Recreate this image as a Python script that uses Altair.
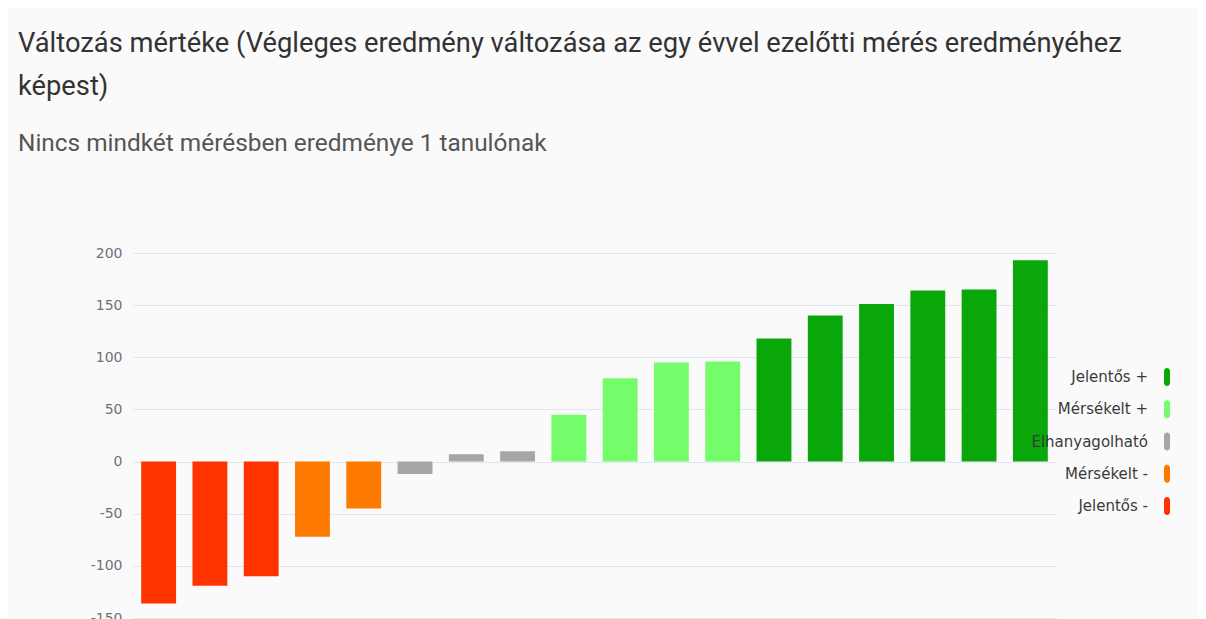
import altair as alt
import pandas as pd

# Bars (one per student, sorted by change)
bar_ids = list(range(1, 19))
bar_values = [-136, -119, -110, -72, -45, -12, 7, 10, 45, 80, 95, 96, 118, 140, 151, 164, 165, 193]
bar_classes = [
    "Jelentős -", "Jelentős -", "Jelentős -",
    "Mérsékelt -", "Mérsékelt -",
    "Elhanyagolható", "Elhanyagolható", "Elhanyagolható",
    "Mérsékelt +", "Mérsékelt +", "Mérsékelt +", "Mérsékelt +",
    "Jelentős +", "Jelentős +", "Jelentős +", "Jelentős +", "Jelentős +", "Jelentős +",
]

# Legend / colour categories
legend_labels = ["Jelentős +", "Mérsékelt +", "Elhanyagolható", "Mérsékelt -", "Jelentős -"]
legend_colors = ["#09a709", "#75fc6a", "#a6a6a6", "#ff7b00", "#ff3300"]

y_ticks = [-150, -100, -50, 0, 50, 100, 150, 200]

title_lines = [
    "Változás mértéke (Végleges eredmény változása az egy évvel ezelőtti mérés eredményéhez",
    "képest)",
]
subtitle_text = "Nincs mindkét mérésben eredménye 1 tanulónak"

df = pd.DataFrame({"id": bar_ids, "value": bar_values, "class": bar_classes})
df_leg = pd.DataFrame({"class": legend_labels})

color_scale = alt.Scale(domain=legend_labels, range=legend_colors)
leg_y = alt.Y(
    "class:N",
    sort=legend_labels,
    scale=alt.Scale(type="point", domain=legend_labels, range=[124, 253], padding=0),
    axis=None,
)

bars = alt.Chart(df).mark_bar().encode(
    x=alt.X("id:O", sort=None, axis=None,
            scale=alt.Scale(paddingInner=0.32, paddingOuter=0.16)),
    y=alt.Y(
        "value:Q",
        scale=alt.Scale(domain=[-150, 200], nice=False, zero=True),
        axis=alt.Axis(
            values=y_ticks, title=None, domain=False, ticks=False,
            gridColor="#e0e6f1", labelColor="#6e7079", labelFontSize=14,
            labelFont="DejaVu Sans", labelPadding=11,
            labelExpr="'' + datum.value",
        ),
    ),
    color=alt.Color("class:N", scale=color_scale, legend=None),
)

leg_sym = alt.Chart(df_leg).mark_tick(
    orient="vertical", thickness=6, size=18, cornerRadius=3, opacity=1
).encode(
    x=alt.value(1034),
    y=leg_y,
    color=alt.Color("class:N", scale=color_scale, legend=None),
)

leg_txt = alt.Chart(df_leg).mark_text(
    align="right", baseline="middle", fontSize=15, font="DejaVu Sans", color="#3a3a3a"
).encode(
    x=alt.value(1015),
    y=leg_y,
    text="class:N",
)

chart = (
    alt.layer(bars, leg_sym, leg_txt)
    .resolve_scale(y="independent")
    .properties(
        width=923,
        height=365,
        view=alt.ViewBackground(stroke="transparent", strokeOpacity=0, strokeWidth=0),
        padding={"left": 10, "top": 22, "right": 28, "bottom": 0},
        title=alt.Title(
            text=title_lines,
            subtitle=subtitle_text,
            anchor="start",
            frame="group",
            dx=-115,
            font="Roboto",
            fontSize=27.3,
            fontWeight="normal",
            color="#333333",
            lineHeight=43,
            subtitleFont="Roboto",
            subtitleFontSize=24.4,
            subtitleColor="#555555",
            subtitlePadding=31,
            offset=91,
        ),
    )
    .configure_view(stroke="transparent", strokeWidth=0, strokeOpacity=0)
    .configure(background="#fafafa")
)

chart.save("out.html", embed_options={"renderer": "svg", "actions": False})
